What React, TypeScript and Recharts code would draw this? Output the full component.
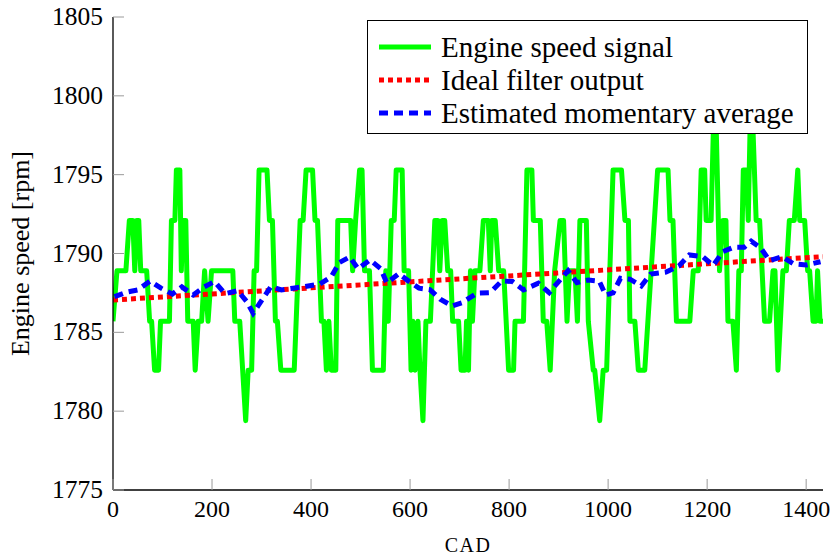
import React from 'react';
import { LineChart, Line, XAxis, YAxis } from 'recharts';

const FONT = 'Liberation Serif';

// Engine speed signal (quantised, vertices)
const signalCad = [
  0, 8, 26, 33, 40, 44, 48, 52, 56, 68, 74, 78, 84, 92, 96, 114, 118, 125, 128, 135,
  138, 141, 147, 151, 162, 166, 172, 179, 185, 192, 199, 242, 246, 256, 268, 273, 280, 285, 290, 295,
  311, 316, 322, 328, 332, 339, 366, 378, 384, 390, 403, 408, 413, 421, 426, 431, 436, 441, 450, 454,
  480, 484, 490, 498, 503, 508, 518, 524, 546, 551, 556, 562, 568, 572, 584, 588, 597, 602, 606, 610,
  616, 620, 626, 632, 641, 650, 656, 660, 665, 670, 676, 682, 686, 698, 703, 711, 714, 718, 722, 726,
  731, 741, 748, 758, 762, 765, 772, 779, 789, 799, 809, 812, 829, 836, 846, 849, 863, 869, 876, 883,
  892, 903, 910, 917, 922, 933, 938, 943, 956, 960, 970, 973, 983, 990, 997, 1010, 1027, 1034, 1041, 1044,
  1054, 1061, 1074, 1100, 1121, 1125, 1131, 1138, 1165, 1172, 1182, 1188, 1195, 1198, 1208, 1213, 1218, 1225, 1232, 1238,
  1242, 1252, 1259, 1264, 1269, 1273, 1279, 1283, 1287, 1292, 1299, 1306, 1316, 1326, 1333, 1337, 1343, 1353, 1360, 1366,
  1376, 1383, 1387, 1397, 1403, 1407, 1414, 1420, 1423, 1428, 1434,
];
const signalRpm = [
  1785.7, 1788.9, 1788.9, 1792.1, 1792.1, 1788.9, 1792.1, 1792.1, 1788.9, 1788.9, 1785.7, 1785.7, 1782.6, 1782.6, 1785.7, 1785.7, 1792.1, 1792.1, 1795.3, 1795.3,
  1788.9, 1792.1, 1792.1, 1785.7, 1785.7, 1782.6, 1785.7, 1785.7, 1788.9, 1785.7, 1788.9, 1788.9, 1785.7, 1785.7, 1779.4, 1782.6, 1782.6, 1788.9, 1788.9, 1795.3,
  1795.3, 1792.1, 1792.1, 1785.7, 1785.7, 1782.6, 1782.6, 1792.1, 1792.1, 1795.3, 1795.3, 1792.1, 1792.1, 1785.7, 1785.7, 1782.6, 1785.7, 1782.6, 1782.6, 1792.1,
  1792.1, 1788.9, 1792.1, 1795.3, 1795.3, 1788.9, 1788.9, 1782.6, 1782.6, 1788.9, 1785.7, 1792.1, 1792.1, 1795.3, 1795.3, 1788.9, 1788.9, 1782.6, 1785.7, 1782.6,
  1785.7, 1782.6, 1779.4, 1785.7, 1785.7, 1792.1, 1792.1, 1788.9, 1792.1, 1792.1, 1788.9, 1788.9, 1785.7, 1785.7, 1782.6, 1782.6, 1785.7, 1782.6, 1788.9, 1785.7,
  1788.9, 1788.9, 1792.1, 1792.1, 1788.9, 1792.1, 1792.1, 1788.9, 1788.9, 1782.6, 1782.6, 1785.7, 1785.7, 1795.3, 1795.3, 1792.1, 1792.1, 1785.7, 1785.7, 1782.6,
  1788.9, 1792.1, 1792.1, 1785.7, 1788.9, 1788.9, 1785.7, 1792.1, 1792.1, 1785.7, 1782.6, 1782.6, 1779.4, 1782.6, 1782.6, 1795.3, 1795.3, 1792.1, 1792.1, 1785.7,
  1785.7, 1782.6, 1782.6, 1795.3, 1795.3, 1792.1, 1792.1, 1785.7, 1785.7, 1788.9, 1788.9, 1795.3, 1795.3, 1792.1, 1792.1, 1798.4, 1798.4, 1788.9, 1792.1, 1792.1,
  1785.7, 1785.7, 1782.6, 1788.9, 1788.9, 1795.3, 1795.3, 1792.1, 1798.4, 1798.4, 1792.1, 1792.1, 1785.7, 1785.7, 1788.9, 1788.9, 1782.6, 1788.9, 1788.9, 1792.1,
  1792.1, 1795.3, 1792.1, 1792.1, 1788.9, 1788.9, 1785.7, 1785.7, 1788.9, 1785.7, 1785.7,
];

// Ideal filter output
const idealCad = [0, 400, 800, 1200, 1434];
const idealRpm = [1787.05, 1787.82, 1788.58, 1789.35, 1789.8];

// Estimated momentary average
const averageCad = [
  3, 28, 50, 75, 97, 120, 139, 162, 184, 205, 226, 252, 270, 283, 303, 319, 340, 364, 387, 418,
  441, 457, 478, 495, 519, 541, 553, 577, 597, 618, 640, 661, 685, 705, 735, 762, 785, 807, 829, 859,
  881, 900, 919, 937, 960, 982, 995, 1010, 1025, 1044, 1067, 1086, 1117, 1143, 1164, 1191, 1212, 1232, 1254, 1275,
  1289, 1308, 1326, 1351, 1375, 1400, 1429,
];
const averageRpm = [
  1787.26, 1787.55, 1787.69, 1788.25, 1787.8, 1787.43, 1787.88, 1787.37, 1787.88, 1788.22, 1787.45, 1787.64, 1786.95, 1786.21, 1787.16, 1787.9, 1787.69, 1787.8, 1787.9, 1788.07,
  1788.53, 1789.42, 1789.78, 1789.03, 1789.59, 1789.03, 1788.13, 1788.72, 1788.25, 1787.8, 1787.71, 1787.1, 1786.67, 1786.88, 1787.48, 1787.52, 1788.26, 1788.22, 1787.69, 1788.11,
  1787.52, 1788.22, 1788.91, 1788.15, 1788.32, 1788.25, 1787.37, 1787.5, 1788.43, 1788.37, 1787.94, 1788.7, 1788.82, 1789.21, 1789.91, 1789.8, 1789.24, 1790.12, 1790.4, 1790.4,
  1790.78, 1790.36, 1789.55, 1789.8, 1789.34, 1789.27, 1789.48,
];

const xTicks = [0, 200, 400, 600, 800, 1000, 1200, 1400];
const yTicks = [1775, 1780, 1785, 1790, 1795, 1800, 1805];

const legendItems = [
  { label: 'Engine speed signal', color: '#00ff00', dash: undefined as string | undefined },
  { label: 'Ideal filter output', color: '#ff0000', dash: '5 4' },
  { label: 'Estimated momentary average', color: '#0000ff', dash: '9 6' },
];

const signalData = signalCad.map((cad, i) => ({ cad, rpm: signalRpm[i] }));
const idealData = idealCad.map((cad, i) => ({ cad, rpm: idealRpm[i] }));
const averageData = averageCad.map((cad, i) => ({ cad, rpm: averageRpm[i] }));

const YTick = (props: any) => {
  const { x, y, payload } = props;
  return (
    <g>
      <line x1={x + 10} x2={x + 21} y1={y} y2={y} stroke="#9a9a9a" strokeWidth={1} />
      <text x={x} y={y} dy={8} textAnchor="end" style={{ fontSize: 25.5, fontFamily: FONT }} fill="#000">
        {payload.value}
      </text>
    </g>
  );
};

const XTick = (props: any) => {
  const { x, y, payload } = props;
  return (
    <g>
      <line x1={x} x2={x} y1={y - 8} y2={y - 19} stroke="#9a9a9a" strokeWidth={1} />
      <text x={x} y={y} dy={19} textAnchor="middle" style={{ fontSize: 24, fontFamily: FONT }} fill="#000">
        {payload.value}
      </text>
    </g>
  );
};

export default function App() {
  return (
    <div style={{ position: 'absolute', left: 0, top: 0, width: 830, height: 557, background: '#fff' }}>
      <LineChart width={830} height={557} margin={{ top: 17, right: 7, left: 0, bottom: 0 }}>
        <XAxis
          dataKey="cad"
          type="number"
          domain={[0, 1434]}
          ticks={xTicks}
          allowDataOverflow
          height={67}
          tickSize={0}
          tickMargin={8}
          tick={<XTick />}
          axisLine={{ stroke: '#000', strokeWidth: 1.3 }}
          tickLine={false}
          label={{ value: 'CAD', position: 'insideBottom', offset: 5, style: { fontSize: 20, letterSpacing: 1.5, fontFamily: FONT }, fill: '#000' }}
        />
        <XAxis
          xAxisId="top"
          orientation="top"
          dataKey="cad"
          type="number"
          domain={[0, 1434]}
          height={0}
          tick={false}
          tickLine={false}
          axisLine={{ stroke: '#000', strokeWidth: 1.3 }}
        />
        <YAxis
          type="number"
          domain={[1775, 1805]}
          ticks={yTicks}
          allowDataOverflow
          width={113}
          tickSize={0}
          tickMargin={10}
          tick={<YTick />}
          tickLine={false}
          axisLine={{ stroke: '#000', strokeWidth: 1.3 }}
          label={{ value: 'Engine speed [rpm]', angle: -90, position: 'insideLeft', offset: 20, textAnchor: 'middle', style: { fontSize: 26, fontFamily: FONT }, fill: '#000' }}
        />
        <YAxis
          yAxisId="right"
          orientation="right"
          type="number"
          domain={[1775, 1805]}
          width={0}
          tick={false}
          tickLine={false}
          axisLine={{ stroke: '#000', strokeWidth: 1.3 }}
        />
        <Line data={signalData} dataKey="rpm" type="linear" stroke="#00ff00" strokeWidth={5} dot={false} isAnimationActive={false} strokeLinejoin="round" />
        <Line data={idealData} dataKey="rpm" type="linear" stroke="#ff0000" strokeWidth={5} strokeDasharray="5 4" dot={false} isAnimationActive={false} />
        <Line data={averageData} dataKey="rpm" type="linear" stroke="#0000ff" strokeWidth={5} strokeDasharray="9 6" dot={false} isAnimationActive={false} />
      </LineChart>
      <div
        style={{
          position: 'absolute',
          left: 367,
          top: 20,
          width: 439,
          height: 112,
          border: '1.3px solid #000',
          background: '#fff',
          boxSizing: 'content-box',
        }}
      >
        {legendItems.map((item, i) => (
          <div key={item.label} style={{ position: 'absolute', left: 10, top: 11 + i * 33, height: 30, display: 'flex', alignItems: 'center' }}>
            <svg width={54} height={10} style={{ display: 'block' }}>
              <line x1={1} x2={53} y1={5} y2={5} stroke={item.color} strokeWidth={5} strokeDasharray={item.dash} />
            </svg>
            <span style={{ marginLeft: 9, fontFamily: FONT, fontSize: 29, color: '#000', whiteSpace: 'nowrap', lineHeight: '30px' }}>
              {item.label}
            </span>
          </div>
        ))}
      </div>
    </div>
  );
}
